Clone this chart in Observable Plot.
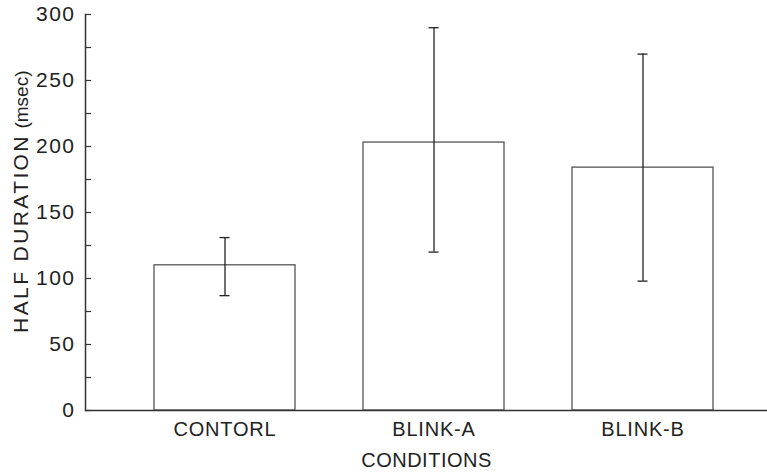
<!DOCTYPE html>
<html>
<head>
<meta charset="utf-8">
<script src="https://cdn.jsdelivr.net/npm/d3@7"></script>
<script src="https://cdn.jsdelivr.net/npm/@observablehq/plot@0.6"></script>
<style>
  html, body { margin: 0; padding: 0; background: #fff; }
  #chart svg { display: block; }
  g[aria-label="y-axis tick label"] text { letter-spacing: 1.5px; }
  g[aria-label="x-axis tick label"] text { letter-spacing: 0.8px; }
</style>
</head>
<body>
<div id="chart"></div>
<script>
const conditions = ["CONTORL", "BLINK-A", "BLINK-B"];
const means = [110, 203, 184];
const lows = [87, 120, 98];
const highs = [131, 290, 270];
const yTicks = [0, 50, 100, 150, 200, 250, 300];
const yMinorTicks = [25, 75, 125, 175, 225, 275];
const yLabelMain = "HALF DURATION";
const yLabelUnit = "(msec)";
const xLabel = "CONDITIONS";

const data = conditions.map((c, i) => ({cond: c, mean: means[i], lo: lows[i], hi: highs[i]}));

const W = 767, H = 476;
const mL = 85, mR = 0, mT = 14, mB = 66;
const plotW = W - mL - mR;
const font = "'Liberation Sans', Arial, Helvetica, sans-serif";
const ink = "#222";
const line = "#333";

const chart = Plot.plot({
  width: W,
  height: H,
  marginLeft: mL,
  marginRight: mR,
  marginTop: mT,
  marginBottom: mB,
  style: {fontFamily: font, color: ink, background: "#fff"},
  x: {domain: conditions, paddingInner: 0.324, paddingOuter: 0.286, align: 0.56, label: null},
  y: {domain: [0, 300], label: null},
  marks: [
    Plot.barY(data, {x: "cond", y: "mean", fill: "#fff", stroke: "#555", strokeWidth: 1.3}),
    Plot.ruleX(data, {x: "cond", y1: "lo", y2: "hi", stroke: "#222", strokeWidth: 1.3}),
    Plot.tickY(data, {x: "cond", y: "lo", stroke: "#222", strokeWidth: 1.3, insetLeft: 65.5, insetRight: 65.5}),
    Plot.tickY(data, {x: "cond", y: "hi", stroke: "#222", strokeWidth: 1.3, insetLeft: 65.5, insetRight: 65.5}),
    Plot.tickY(yTicks, {y: d => d, stroke: line, strokeWidth: 1.2, insetRight: plotW - 6}),
    Plot.tickY(yMinorTicks, {y: d => d, stroke: line, strokeWidth: 1.2, insetRight: plotW - 6}),
    Plot.axisY({ticks: yTicks, tickSize: 0, tickPadding: 10, fontSize: 21, label: null, tickFormat: d => String(d)}),
    Plot.axisX({tickSize: 0, tickPadding: 11, fontSize: 20, label: null}),
    Plot.ruleY([0], {stroke: line, strokeWidth: 1.5}),
    Plot.frame({anchor: "left", stroke: line, strokeWidth: 1.5}),
    Plot.text([yLabelMain], {text: d => d, frameAnchor: "left", textAnchor: "middle", rotate: -90, dx: -64, dy: 21, fontSize: 21, fill: ink}),
    Plot.text([yLabelUnit], {text: d => d, frameAnchor: "left", textAnchor: "middle", rotate: -90, dx: -64, dy: -113, fontSize: 19, fill: ink}),
    Plot.text([xLabel], {text: d => d, frameAnchor: "bottom", dy: 56, fontSize: 20, fill: ink})
  ]
});
d3.select(chart).selectAll("text")
  .filter(function() { return this.textContent === yLabelMain; })
  .style("letter-spacing", "2.4px");
d3.select(chart).selectAll("text")
  .filter(function() { return this.textContent === xLabel; })
  .style("letter-spacing", "0.5px");
document.getElementById("chart").appendChild(chart);
</script>
</body>
</html>
